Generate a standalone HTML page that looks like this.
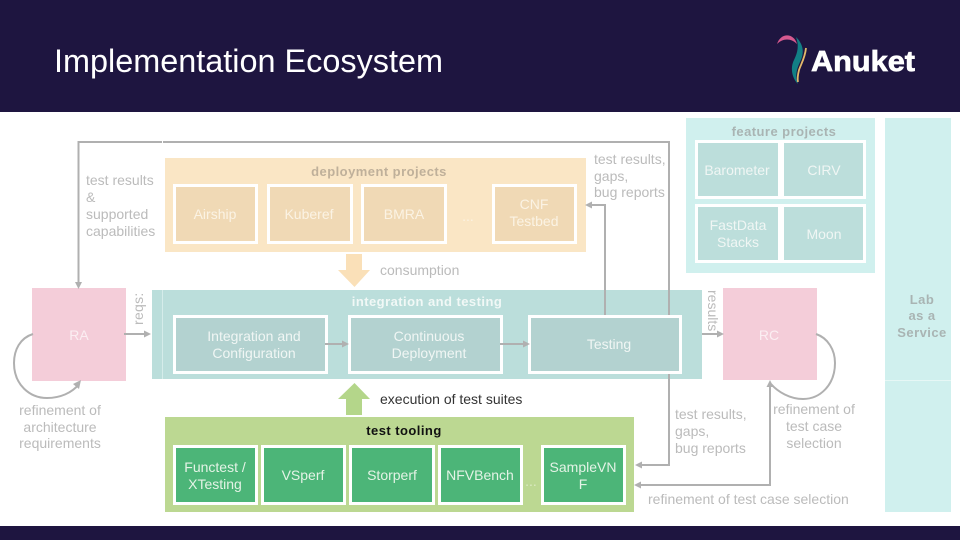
<!DOCTYPE html>
<html><head><meta charset="utf-8"><style>
html,body{margin:0;padding:0;background:#fff}
svg{display:block}
text{font-family:"Liberation Sans",sans-serif;font-size:14px;fill:#bbb}
.w{fill:#eef6f4;text-anchor:middle}
.t{fill:#f0f6f4;text-anchor:middle}
.g{fill:#e4f3e6;text-anchor:middle}
.c{text-anchor:middle}
.b{font-weight:bold;font-size:13px;letter-spacing:.45px;text-anchor:middle}
.box{stroke:#fff;stroke-width:3}
.ln{fill:none;stroke:#b0b0b0;stroke-width:2}
</style></head><body>
<svg width="960" height="540" viewBox="0 0 960 540" xmlns="http://www.w3.org/2000/svg">
<rect width="960" height="540" fill="#fff"/>
<rect width="960" height="112" fill="#1e1540"/>
<rect y="526" width="960" height="14" fill="#1e1540"/>
<text x="54" y="72" style="font-size:32px;fill:#fff" textLength="389" lengthAdjust="spacingAndGlyphs">Implementation Ecosystem</text>
<path d="M777 44C781 32 794 33 797 44C791 38 783 38 777 44Z" fill="#d6598f"/>
<path d="M796 37C803 44 805 52 800 62C796 70 795 78 798 84C792 78 790 68 794 60C798 52 799 45 796 37Z" fill="#127f85"/>
<path d="M806 48C805 58 801 64 799 70C798 74 797 78 798 82" fill="none" stroke="#e3b96a" stroke-width="1.800"/>
<text x="811" y="71" style="font-size:29px;font-weight:bold;fill:#fff;stroke:#fff;stroke-width:.7" textLength="104" lengthAdjust="spacingAndGlyphs">Anuket</text>

<rect x="165" y="158" width="421" height="94" fill="#fae6c5"/>
<g fill="#f0d9b5" class="box">
<rect x="174.500" y="185.500" width="82" height="57"/>
<rect x="268.500" y="185.500" width="83" height="57"/>
<rect x="362.500" y="185.500" width="83" height="57"/>
<rect x="493.500" y="185.500" width="82" height="57"/>
</g>
<text x="379" y="176" class="b" style="fill:#bfb09a">deployment projects</text>
<text x="215" y="219" class="w" style="fill:#fbf3e4">Airship</text>
<text x="309" y="219" class="w" style="fill:#fbf3e4">Kuberef</text>
<text x="404" y="219" class="w" style="fill:#fbf3e4">BMRA</text>
<text x="468" y="221" class="w" style="fill:#fbf3e4">...</text>
<text x="534" y="209" class="w" style="fill:#fbf3e4">CNF</text>
<text x="534" y="226" class="w" style="fill:#fbf3e4">Testbed</text>
<polygon points="346,254 362,254 362,270 370,270 354.500,287 338,270 346,270" fill="#fae0b8"/>
<text x="380" y="275">consumption</text>

<rect x="152" y="290" width="550" height="89" fill="#bbdedb"/>
<g fill="#b3d2d0" class="box">
<rect x="174.500" y="316.500" width="152" height="56"/>
<rect x="349.500" y="316.500" width="152" height="56"/>
<rect x="529.500" y="316.500" width="151" height="56"/>
</g>
<rect x="162" y="290" width="1" height="89" fill="#d5ecea"/>
<text x="427" y="306" class="b" style="fill:#f1f8f6">integration and testing</text>
<text x="254" y="341" class="t">Integration and</text>
<text x="254" y="358" class="t">Configuration</text>
<text x="429" y="341" class="t">Continuous</text>
<text x="429" y="358" class="t">Deployment</text>
<text x="609" y="349" class="t">Testing</text>

<polygon points="354.500,383 370,399 362,399 362,415 346,415 346,399 338,399" fill="#b4d68a"/>
<text x="380" y="404" style="fill:#333">execution of test suites</text>

<rect x="165" y="417" width="469" height="95" fill="#bcd892"/>
<g fill="#4cb578" class="box">
<rect x="174.500" y="446.500" width="82" height="57"/>
<rect x="262.500" y="446.500" width="82" height="57"/>
<rect x="350.500" y="446.500" width="83" height="57"/>
<rect x="439.500" y="446.500" width="82" height="57"/>
<rect x="542.500" y="446.500" width="82" height="57"/>
</g>
<text x="404" y="435" class="b" style="fill:#111">test tooling</text>
<text x="215" y="472" class="g">Functest /</text>
<text x="215" y="489" class="g">XTesting</text>
<text x="303" y="480" class="g">VSperf</text>
<text x="392" y="480" class="g">Storperf</text>
<text x="480" y="480" class="g">NFVBench</text>
<text x="531" y="486" class="g" style="fill:#dcebc4">...</text>
<text x="583" y="472" class="g">SampleVN</text>
<text x="583" y="489" class="g">F</text>

<rect x="686" y="118" width="189" height="155" fill="#d0f0ee"/>
<g fill="#bcdedb" class="box">
<rect x="696.500" y="141.500" width="83" height="56"/>
<rect x="782.500" y="141.500" width="82" height="56"/>
<rect x="696.500" y="205.500" width="83" height="56"/>
<rect x="782.500" y="205.500" width="82" height="56"/>
</g>
<text x="784" y="136" class="b" style="fill:#a9b4b3">feature projects</text>
<text x="737" y="175" class="t">Barometer</text>
<text x="824" y="175" class="t">CIRV</text>
<text x="738" y="230" class="t">FastData</text>
<text x="738" y="247" class="t">Stacks</text>
<text x="824" y="239" class="t">Moon</text>

<rect x="885" y="118" width="66" height="394" fill="#d0f0ee"/>
<rect x="885" y="380" width="66" height="1" fill="#e6f7f5"/>
<text x="922" y="304" class="b" style="fill:#a9b4b3">Lab</text>
<text x="922" y="320" class="b" style="fill:#a9b4b3">as a</text>
<text x="922" y="337" class="b" style="fill:#a9b4b3">Service</text>

<rect x="32" y="288" width="94" height="93" fill="#f4cdd9"/>
<rect x="723" y="288" width="94" height="92" fill="#f4cdd9"/>
<text x="79" y="340" class="w" style="fill:#fbeef2">RA</text>
<text x="769" y="340" class="w" style="fill:#fbeef2">RC</text>

<text transform="translate(143,325) rotate(-90)" style="letter-spacing:.3px">reqs:</text>
<text transform="translate(708,290) rotate(90)">results</text>

<text x="86" y="185">test results</text>
<text x="86" y="202">&amp;</text>
<text x="86" y="219">supported</text>
<text x="86" y="236">capabilities</text>
<text x="594" y="164">test results,</text>
<text x="594" y="181">gaps,</text>
<text x="594" y="197">bug reports</text>
<text x="60" y="415" class="c">refinement of</text>
<text x="60" y="432" class="c">architecture</text>
<text x="60" y="448" class="c">requirements</text>
<text x="675" y="419">test results,</text>
<text x="675" y="436">gaps,</text>
<text x="675" y="453">bug reports</text>
<text x="814" y="414" class="c">refinement of</text>
<text x="814" y="431" class="c">test case</text>
<text x="814" y="448" class="c">selection</text>
<text x="648" y="504">refinement of test case selection</text>

<path class="ln" d="M669 315V142H78.500V282"/>
<polygon points="75,282 82,282 78.500,289" fill="#b0b0b0"/>
<path class="ln" d="M605 315V205H592"/>
<polygon points="592,201.500 592,208.500 585,205" fill="#b0b0b0"/>
<path class="ln" d="M669 374V465H642"/>
<polygon points="642,461.500 642,468.500 635,465" fill="#b0b0b0"/>
<path class="ln" d="M770 382V485H641"/>
<polygon points="641,481.500 641,488.500 634,485" fill="#b0b0b0"/>
<polygon points="770,380 766.500,387 773.500,387" fill="#b0b0b0"/>
<path class="ln" d="M33 334C20 338 14 350 14 363C14 385 30 398 47 398C60 398 72 393 79 384"/>
<polygon points="81,380 73,384 79,389" fill="#b0b0b0"/>
<path class="ln" d="M816 334C828 338 835 350 835 363C835 385 820 399 803 399C790 399 778 392 771 384"/>
<path class="ln" d="M124 334H145"/><polygon points="144,330.500 144,337.500 151,334" fill="#b0b0b0"/>
<path class="ln" d="M325 344H342"/><polygon points="342,340.500 342,347.500 349,344" fill="#b0b0b0"/>
<path class="ln" d="M500 344H523"/><polygon points="523,340.500 523,347.500 530,344" fill="#b0b0b0"/>
<path class="ln" d="M702 334H718"/><polygon points="717,330.500 717,337.500 724,334" fill="#b0b0b0"/>
<rect x="162" y="140" width="1" height="4" fill="#fff"/>
</svg>
</body></html>
